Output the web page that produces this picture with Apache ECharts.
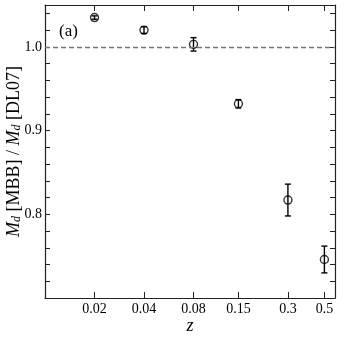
<!DOCTYPE html>
<html>
<head>
<meta charset="utf-8">
<script src="https://cdn.jsdelivr.net/npm/echarts@6/dist/echarts.min.js"></script>
<style>
  html, body { margin: 0; padding: 0; background: #fff; }
  #chart { width: 344px; height: 339px; }
</style>
</head>
<body>
<div id="chart"></div>
<script>
// redshift bins and mass ratio with 1-sigma errors
var zValues = [0.02, 0.04, 0.08, 0.15, 0.3, 0.5];
var ratio = [1.035, 1.020, 1.003, 0.932, 0.817, 0.746];
var ratioErr = [0.002, 0.004, 0.008, 0.005, 0.019, 0.016];

var xTickValues = [0.02, 0.04, 0.08, 0.15, 0.3, 0.5];
var yLabelValues = [0.8, 0.9, 1.0];

var font = 'Liberation Serif';

var points = zValues.map(function (z, i) { return [z, ratio[i]]; });
var bars = zValues.map(function (z, i) {
	return [z, ratio[i] - ratioErr[i], ratio[i] + ratioErr[i]];
});

var chart = echarts.init(document.getElementById('chart'));

// ticks on both sides of the frame, all pointing in
function xAxisOpt(pos, showLabel) {
	return {
		type: 'log',
		logBase: 10,
		position: pos,
		min: 0.01,
		max: 0.58,
		axisLine: { show: true, lineStyle: { color: '#222', width: 1.2 } },
		axisTick: { inside: true, length: 6, customValues: xTickValues, lineStyle: { color: '#222', width: 1 } },
		minorTick: { show: false },
		splitLine: { show: false },
		axisLabel: {
			show: showLabel,
			customValues: xTickValues,
			color: '#000',
			fontFamily: font,
			fontSize: 14,
			margin: 4,
			formatter: function (v) { return String(+(+v).toPrecision(3)); }
		}
	};
}

function yAxisOpt(pos, showLabel) {
	return {
		type: 'value',
		position: pos,
		min: 0.7,
		max: 1.05,
		interval: 0.02,
		axisLine: { show: true, lineStyle: { color: '#222', width: 1.2 } },
		axisTick: { inside: true, length: 5, lineStyle: { color: '#222', width: 1 } },
		splitLine: { show: false },
		axisLabel: {
			show: showLabel,
			customValues: yLabelValues,
			color: '#000',
			fontFamily: font,
			fontSize: 14,
			margin: 3,
			formatter: function (v) { return (+v).toFixed(1); }
		}
	};
}

var xBottom = xAxisOpt('bottom', true);
xBottom.name = 'z';
xBottom.nameLocation = 'middle';
xBottom.nameGap = 19;
xBottom.nameMoveOverlap = false;
xBottom.nameTextStyle = { fontFamily: font, fontStyle: 'italic', fontSize: 18, color: '#000' };

var yLeft = yAxisOpt('left', true);
yLeft.name = '{m|M}{s|d} [MBB] / {m|M}{s|d} [DL07]';
yLeft.nameLocation = 'middle';
yLeft.nameRotate = 90;
yLeft.nameGap = 22;
yLeft.nameMoveOverlap = false;
yLeft.nameTextStyle = {
	fontFamily: font, fontSize: 18, color: '#000',
	rich: {
		m: { fontFamily: font, fontSize: 18, fontStyle: 'italic', color: '#000' },
		s: { fontFamily: font, fontSize: 12, fontStyle: 'italic', color: '#000', verticalAlign: 'bottom', padding: [6, 0, 0, 0] }
	}
};

var option = {
	animation: false,
	backgroundColor: '#fff',
	grid: { left: 45, right: 9, top: 5, bottom: 41, outerBoundsMode: 'none', containLabel: false },
	xAxis: [xBottom, xAxisOpt('top', false)],
	yAxis: [yLeft, yAxisOpt('right', false)],
	graphic: [{
		type: 'text',
		left: 59,
		top: 23,
		style: { text: '(a)', fontFamily: font, fontSize: 17, fill: '#000' }
	}],
	series: [
		{
			type: 'custom',
			xAxisIndex: 0,
			yAxisIndex: 0,
			data: bars,
			z: 3,
			renderItem: function (params, api) {
				var lo = api.coord([api.value(0), api.value(1)]);
				var hi = api.coord([api.value(0), api.value(2)]);
				var cap = 3;
				var st = { stroke: '#000', lineWidth: 1.4 };
				return {
					type: 'group',
					children: [
						{ type: 'line', shape: { x1: lo[0], y1: lo[1], x2: hi[0], y2: hi[1] }, style: st },
						{ type: 'line', shape: { x1: lo[0] - cap, y1: lo[1], x2: lo[0] + cap, y2: lo[1] }, style: st },
						{ type: 'line', shape: { x1: hi[0] - cap, y1: hi[1], x2: hi[0] + cap, y2: hi[1] }, style: st }
					]
				};
			}
		},
		{
			type: 'scatter',
			xAxisIndex: 0,
			yAxisIndex: 0,
			data: points,
			symbol: 'circle',
			symbolSize: 8,
			z: 4,
			itemStyle: { color: 'rgba(255,255,255,0)', borderColor: '#000', borderWidth: 1.4 },
			markLine: {
				silent: true,
				symbol: 'none',
				label: { show: false },
				lineStyle: { color: '#777', type: [5, 3], width: 1.3 },
				data: [{ yAxis: 1.0 }]
			}
		}
	]
};

chart.setOption(option);
</script>
</body>
</html>
